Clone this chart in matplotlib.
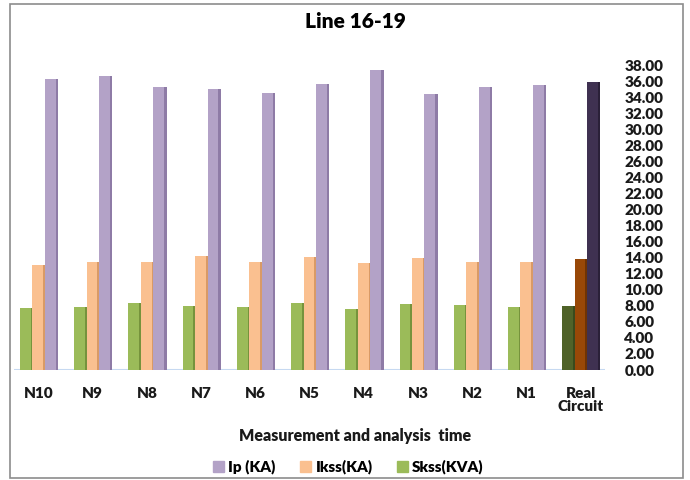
import matplotlib.pyplot as plt
import matplotlib.patches as mpatches
from matplotlib.ticker import FormatStrFormatter

plt.rcParams['font.family'] = ['Lato', 'DejaVu Sans']
bold = "heavy"

categories = ["N10", "N9", "N8", "N7", "N6", "N5", "N4", "N3", "N2", "N1", "Real\nCircuit"]
ip_ka = [36.2, 36.6, 35.2, 35.0, 34.5, 35.6, 37.4, 34.4, 35.2, 35.5, 35.9]
ikss_ka = [13.1, 13.5, 13.5, 14.2, 13.4, 14.1, 13.3, 14.0, 13.4, 13.5, 13.8]
skss_kva = [7.7, 7.8, 8.3, 8.0, 7.8, 8.4, 7.6, 8.2, 8.1, 7.9, 8.0]

# (front, side) colours; the last group is drawn darker
ip_col = ("#B3A2C7", "#8E7BA6")
ip_dark = ("#3F3151", "#2A2038")
ikss_col = ("#FAC090", "#D99A66")
ikss_dark = ("#984807", "#6E3304")
skss_col = ("#9BBB59", "#76933C")
skss_dark = ("#4F6228", "#3A4A1C")

fig = plt.figure(figsize=(6.9, 4.8), dpi=100)
ax = fig.add_axes([14 / 690, 1 - 370 / 480, (605 - 14) / 690, (370 - 65) / 480])

x = list(range(len(categories)))
w = 0.20
side = 0.045
series = [
    (skss_kva, -0.24, skss_col, skss_dark),
    (ikss_ka, -0.01, ikss_col, ikss_dark),
    (ip_ka, 0.22, ip_col, ip_dark),
]
for vals, off, col, dark in series:
    fronts = [col[0]] * (len(vals) - 1) + [dark[0]]
    sides = [col[1]] * (len(vals) - 1) + [dark[1]]
    xs = [i + off for i in x]
    ax.bar([v + w / 2 + side / 2 for v in xs], vals, width=side, color=sides, zorder=2)
    ax.bar(xs, vals, width=w, color=fronts, zorder=3)

ax.axhline(0, color="#C6D9F1", lw=1.5, zorder=1)
ax.set_xlim(-0.45, 10.45)
ax.set_ylim(0, 38)
ax.set_yticks([i * 2 for i in range(20)])
ax.yaxis.set_major_formatter(FormatStrFormatter("%.2f"))
ax.yaxis.tick_right()
ax.tick_params(axis="y", length=0, pad=14, labelsize=11, labelcolor="#1a1a1a")
ax.tick_params(axis="x", length=0, pad=12, labelsize=11, labelcolor="#1a1a1a")
for lab in ax.get_yticklabels():
    lab.set_fontweight(bold)
    lab.set_horizontalalignment("left")
ax.set_xticks(x)
ax.set_xticklabels(categories, fontweight=bold, linespacing=1.0)
for s in ax.spines.values():
    s.set_visible(False)

fig.text(0.515, 1 - 22 / 480, "Line 16-19", ha="center", va="center",
         fontsize=15, fontweight=bold)
fig.text(0.515, 1 - 436 / 480, "Measurement and analysis  time", ha="center",
         va="center", fontsize=11.5, fontweight=bold, color="#1a1a1a")

handles = [mpatches.Patch(color=ip_col[0], label="Ip (KA)"),
           mpatches.Patch(color=ikss_col[0], label="Ikss(KA)"),
           mpatches.Patch(color=skss_col[0], label="Skss(KVA)")]
fig.legend(handles=handles, loc="center", bbox_to_anchor=(0.505, 1 - 467 / 480),
           ncol=3, frameon=False, handlelength=0.7, handleheight=0.7,
           handletextpad=0.3, columnspacing=1.6,
           prop={"weight": bold, "size": 11})

fig.add_artist(mpatches.Rectangle((10 / 690, 2 / 480), 673 / 690, 474 / 480,
                                  transform=fig.transFigure, fill=False,
                                  edgecolor="#8C8C8C", lw=1.2))

fig.savefig("out.png", dpi=100)
